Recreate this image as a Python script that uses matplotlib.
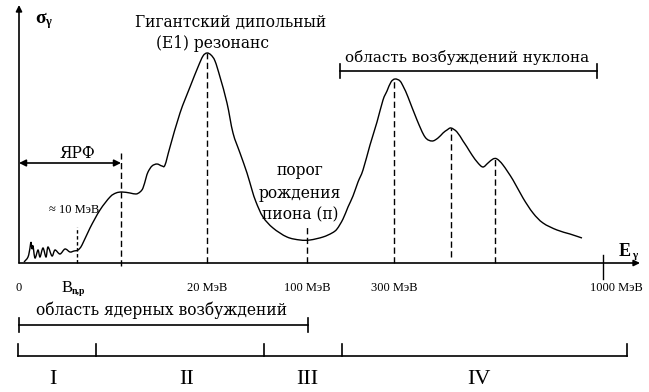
import numpy as np
import matplotlib
matplotlib.use("Agg")
import matplotlib.pyplot as plt
from matplotlib.path import Path
from matplotlib.patches import PathPatch

# Кривая сечения фотопоглощения (схема):
# E - положение по оси энергии, sigma - высота кривой
E = np.array([5, 9, 11, 12, 13, 14, 16, 19, 21, 24, 27, 29, 33, 36, 41, 46, 51, 55, 59, 63,
              71, 81, 91, 97, 103, 111, 117, 121, 124, 127, 129, 133, 138, 143, 146,
              151, 161, 171, 179, 184, 188, 192, 196, 201, 208, 214, 221, 228, 233, 237,
              244, 254, 268, 281, 291, 304, 313, 318, 324, 329, 334, 339, 344, 351, 358,
              364, 368, 372, 376, 381, 385, 389, 398, 406, 413, 419, 424, 428, 432, 438,
              444, 448, 453, 459, 464, 469, 474, 478, 484, 494, 504, 514, 524, 538, 551, 563])
sigma = np.array([1, 6, 15, 21, 14, 17, 5, 13, 6, 15, 6, 16, 7, 13, 9, 14, 11, 12, 13, 18,
                  35, 53, 66, 70, 71, 70, 69, 71, 75, 85, 91, 97, 99, 97, 98,
                  116, 150, 176, 196, 207, 210, 208, 202, 186, 160, 130, 110, 90, 73, 61,
                  46, 35, 26, 23, 23, 26, 30, 34, 44, 56, 67, 81, 93, 118, 141,
                  163, 172, 181, 184, 182, 175, 166, 143, 126, 122, 125, 130, 133, 135, 131,
                  122, 116, 108, 100, 96, 100, 104, 104, 98, 83, 65, 50, 40, 33, 29, 25])

# Вертикальные штриховые линии: положение, верх, низ
mark_x = [58, 102, 188, 288, 375, 432, 476]
mark_top = [36, 110, 210, 38, 184, 135, 104]
mark_bottom = [0, -3, 0, 0, 0, 6, 0]

# Подписи под осью энергии
tick_pos = [0, 188, 288, 375, 597]
tick_labels = ["0", "20 МэВ", "100 МэВ", "300 МэВ", "1000 МэВ"]

# Области I-IV
region_edges = [-1, 77, 245, 323, 608]
region_names = ["I", "II", "III", "IV"]
region_centers = [34, 168, 288, 460]

serif = "DejaVu Serif"
tnr = "Liberation Serif"
fs = 11.2

fig = plt.figure(figsize=(6.49, 3.92), dpi=100)
ax = fig.add_axes([0, 0, 1, 1])
ax.set_xlim(-19, 630)
ax.set_ylim(-129, 263)
ax.axis("off")

# Оси со стрелками
arrow = dict(arrowstyle="-|>", color="black", lw=1.2, mutation_scale=9, shrinkA=0, shrinkB=0)
ax.annotate("", xy=(0, 258), xytext=(0, 0), arrowprops=arrow)
ax.annotate("", xy=(621, 0), xytext=(0, 0), arrowprops=arrow)
ax.plot([584, 584], [8, -16], color="black", lw=1.0)

ax.text(16, 245, "σ", fontfamily=tnr, fontweight="bold", fontsize=14, va="center")
ax.text(26, 241, "γ", fontfamily=tnr, fontweight="bold", fontsize=9, va="center")
ax.text(600, 12, "E", fontfamily=tnr, fontweight="bold", fontsize=13, va="center")
ax.text(613, 8, "γ", fontfamily=tnr, fontweight="bold", fontsize=8, va="center")

# Кривая: гладкая линия через точки (сплайн Катмулла-Рома в виде кривых Безье)
pts = np.column_stack([E, sigma]).astype(float)
verts = [pts[0]]
codes = [Path.MOVETO]
for i in range(len(pts) - 1):
    p0 = pts[i - 1] if i > 0 else pts[i]
    p1, p2 = pts[i], pts[i + 1]
    p3 = pts[i + 2] if i + 2 < len(pts) else pts[i + 1]
    verts += [p1 + (p2 - p0) / 6, p2 - (p3 - p1) / 6, p2]
    codes += [Path.CURVE4] * 3
ax.add_patch(PathPatch(Path(verts, codes), fill=False, edgecolor="black", lw=1.0))

# Штриховые линии
for x, t, b in zip(mark_x, mark_top, mark_bottom):
    d = (2.5, 1.8) if x == mark_x[0] else (4.5, 2.5)
    ax.plot([x, x], [b, t], color="black", lw=1.0, dashes=d)

# Подписи под осью
for x, s in zip(tick_pos, tick_labels):
    ax.text(x, -25, s, fontfamily=tnr, fontsize=9, ha="center", va="center")
ax.text(43, -25, "B", fontfamily=tnr, fontsize=12, va="center")
ax.text(53, -29, "n,p", fontfamily=tnr, fontsize=7, fontweight="bold", va="center")

# ЯРФ
ax.annotate("", xy=(0, 100), xytext=(102, 100),
            arrowprops=dict(arrowstyle="<|-|>", color="black", lw=1.2, mutation_scale=10,
                            shrinkA=0, shrinkB=0))
ax.text(58, 110, "ЯРФ", fontfamily=serif, fontsize=fs, ha="center", va="center")
ax.text(55, 53, "≈ 10 МэВ", fontfamily=tnr, fontsize=9, ha="center", va="center")

# Подписи резонансов
ax.text(212, 241, "Гигантский дипольный", fontfamily=serif, fontsize=fs, ha="center", va="center")
ax.text(193, 220, "(E1) резонанс", fontfamily=serif, fontsize=fs, ha="center", va="center")
ax.text(281, 70, "порог\nрождения\nпиона (π)", fontfamily=serif, fontsize=fs,
        ha="center", va="center", linespacing=1.4)

# Область возбуждений нуклона
ax.text(448, 206, "область возбуждений нуклона", fontfamily=serif, fontsize=fs - 0.3,
        ha="center", va="center")
ax.plot([321, 578], [192, 192], color="black", lw=1.2)
ax.plot([321, 321], [185, 199], color="black", lw=1.2)
ax.plot([578, 578], [185, 199], color="black", lw=1.2)

# Область ядерных возбуждений
ax.text(143, -47, "область ядерных возбуждений", fontfamily=serif, fontsize=fs,
        ha="center", va="center")
ax.plot([0, 289], [-62, -62], color="black", lw=1.2)
ax.plot([0, 0], [-55, -69], color="black", lw=1.2)
ax.plot([289, 289], [-55, -69], color="black", lw=1.2)

# Области I-IV
ax.plot([region_edges[0], region_edges[-1]], [-93, -93], color="black", lw=1.2)
for x in region_edges:
    ax.plot([x, x], [-93, -81], color="black", lw=1.2)
for xc, name in zip(region_centers, region_names):
    ax.text(xc, -117, name, fontfamily=tnr, fontsize=16, ha="center", va="center")

fig.savefig("out.png", dpi=100)
